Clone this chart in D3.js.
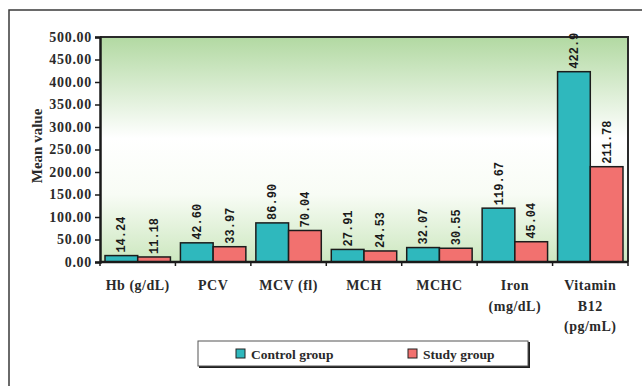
<!DOCTYPE html>
<html>
<head>
<meta charset="utf-8">
<script src="https://cdn.jsdelivr.net/npm/d3@7"></script>
<style>
  html, body { margin: 0; padding: 0; background: #fff; }
  svg { display: block; }
</style>
</head>
<body>
<svg id="chart" width="642" height="386"></svg>
<script>
// Haematological parameters: mean values by group
const categories = [
  ["Hb (g/dL)"],
  ["PCV"],
  ["MCV (fl)"],
  ["MCH"],
  ["MCHC"],
  ["Iron", "(mg/dL)"],
  ["Vitamin", "B12", "(pg/mL)"]
];
const controlValues = [14.24, 42.60, 86.90, 27.91, 32.07, 119.67, 422.9];
const studyValues   = [11.18, 33.97, 70.04, 24.53, 30.55, 45.04, 211.78];
const controlLabels = ["14.24", "42.60", "86.90", "27.91", "32.07", "119.67", "422.9"];
const studyLabels   = ["11.18", "33.97", "70.04", "24.53", "30.55", "45.04", "211.78"];
const yTicks = [0, 50, 100, 150, 200, 250, 300, 350, 400, 450, 500];
const seriesNames = ["Control group", "Study group"];

const colors = { "Control group": "#2fb8bd", "Study group": "#f2716f" };
const serif = "'Liberation Serif', 'Times New Roman', serif";
const mono = "'Liberation Mono', 'Courier New', monospace";

const svg = d3.select("#chart");

// outer frame (top and left edges)
svg.append("path")
  .attr("d", "M9,386 V10 H642")
  .attr("fill", "none")
  .attr("stroke", "#3a3a3a")
  .attr("stroke-width", 1.5);

const plot = { left: 100, right: 628, top: 37, bottom: 262 };

const defs = svg.append("defs");
const grad = defs.append("linearGradient")
  .attr("id", "bg").attr("x1", 0).attr("y1", 0).attr("x2", 0).attr("y2", 1);
grad.append("stop").attr("offset", "0%").attr("stop-color", "#b2d9a2");
grad.append("stop").attr("offset", "45%").attr("stop-color", "#ffffff");
grad.append("stop").attr("offset", "70%").attr("stop-color", "#f8fcf5");
grad.append("stop").attr("offset", "100%").attr("stop-color", "#cce7bf");

svg.append("rect")
  .attr("x", plot.left).attr("y", plot.top)
  .attr("width", plot.right - plot.left).attr("height", plot.bottom - plot.top)
  .attr("fill", "url(#bg)");

const idx = d3.range(categories.length);
const x0 = d3.scaleBand().domain(idx).range([plot.left, plot.right]).padding(0);
const x1 = d3.scaleBand().domain(seriesNames)
  .range([5, x0.bandwidth() - 5]).padding(0);
const y = d3.scaleLinear().domain([0, 500]).range([plot.bottom, plot.top]);

// top and right plot borders
svg.append("path")
  .attr("d", `M${plot.left},${plot.top} H${plot.right} V${plot.bottom}`)
  .attr("fill", "none").attr("stroke", "#2a2a2a").attr("stroke-width", 2);

// bars
const data = idx.map(i => [
  { s: "Control group", v: controlValues[i], lab: controlLabels[i] },
  { s: "Study group", v: studyValues[i], lab: studyLabels[i] }
]);

const groups = svg.append("g").selectAll("g").data(data).join("g")
  .attr("transform", (d, i) => `translate(${x0(i)},0)`);

groups.selectAll("rect").data(d => d).join("rect")
  .attr("x", d => x1(d.s))
  .attr("y", d => y(d.v))
  .attr("width", x1.bandwidth())
  .attr("height", d => y(0) - y(d.v))
  .attr("fill", d => colors[d.s])
  .attr("stroke", "#1c1c1c")
  .attr("stroke-width", 1.5);

// value labels, rotated
groups.selectAll("text").data(d => d).join("text")
  .attr("transform", d => `translate(${x1(d.s) + x1.bandwidth() / 2 + 4},${y(d.v) - 3}) rotate(-90)`)
  .attr("text-anchor", "start")
  .attr("font-family", mono)
  .attr("font-weight", "bold")
  .attr("font-size", 12)
  .attr("fill", "#1a1a1a")
  .text(d => d.lab);

// y axis
const yAxis = svg.append("g")
  .attr("transform", `translate(${plot.left},0)`)
  .call(d3.axisLeft(y).tickValues(yTicks).tickFormat(d3.format(".2f")).tickSize(5).tickPadding(3));
yAxis.select(".domain").attr("stroke", "#1a1a1a").attr("stroke-width", 2.5);
yAxis.selectAll(".tick line").attr("stroke", "#1a1a1a").attr("stroke-width", 1.5);
yAxis.selectAll(".tick text")
  .attr("font-family", serif).attr("font-weight", "bold")
  .attr("font-size", 14).attr("letter-spacing", 0.7).attr("fill", "#2a2a2a");

// x axis baseline with ticks at category boundaries
const xAxis = svg.append("g").attr("transform", `translate(0,${plot.bottom})`);
xAxis.append("line")
  .attr("x1", plot.left).attr("x2", plot.right)
  .attr("stroke", "#1a1a1a").attr("stroke-width", 2.5);
const bounds = idx.map(i => x0(i)).concat([plot.right]);
xAxis.selectAll("line.tk").data(bounds).join("line")
  .attr("class", "tk")
  .attr("x1", d => d).attr("x2", d => d)
  .attr("y1", 0).attr("y2", 4)
  .attr("stroke", "#1a1a1a").attr("stroke-width", 1.5);

// category labels
const catText = xAxis.selectAll("text").data(categories).join("text")
  .attr("x", (d, i) => x0(i) + x0.bandwidth() / 2)
  .attr("y", 28)
  .attr("text-anchor", "middle")
  .attr("font-family", serif).attr("font-weight", "bold")
  .attr("font-size", 14).attr("letter-spacing", 0.5).attr("fill", "#2a2a2a");
catText.selectAll("tspan").data(d => d).join("tspan")
  .attr("x", function() { return d3.select(this.parentNode).attr("x"); })
  .attr("dy", (d, i) => i === 0 ? 0 : 20.5)
  .text(d => d);

// y axis title
svg.append("text")
  .attr("transform", `translate(42,146) rotate(-90)`)
  .attr("text-anchor", "middle")
  .attr("font-family", serif).attr("font-weight", "bold")
  .attr("font-size", 15).attr("fill", "#2a2a2a")
  .text("Mean value");

// legend
const legend = svg.append("g").attr("transform", "translate(198,341)");
legend.append("rect")
  .attr("x", 1).attr("y", 1).attr("width", 331).attr("height", 26)
  .attr("fill", "#1f1f1f");
legend.append("rect")
  .attr("x", 0).attr("y", 0).attr("width", 330).attr("height", 25)
  .attr("fill", "#ffffff").attr("stroke", "#555").attr("stroke-width", 1);
const items = [
  { s: "Control group", x: 38 },
  { s: "Study group", x: 210 }
];
const li = legend.selectAll("g.item").data(items).join("g")
  .attr("class", "item")
  .attr("transform", d => `translate(${d.x},0)`);
li.append("rect")
  .attr("x", 0).attr("y", 8).attr("width", 9).attr("height", 9)
  .attr("fill", d => colors[d.s]).attr("stroke", "#222").attr("stroke-width", 1);
li.append("text")
  .attr("x", 15).attr("y", 17.5)
  .attr("font-family", serif).attr("font-weight", "bold")
  .attr("font-size", 13.5).attr("fill", "#2a2a2a")
  .text(d => d.s);
</script>
</body>
</html>
